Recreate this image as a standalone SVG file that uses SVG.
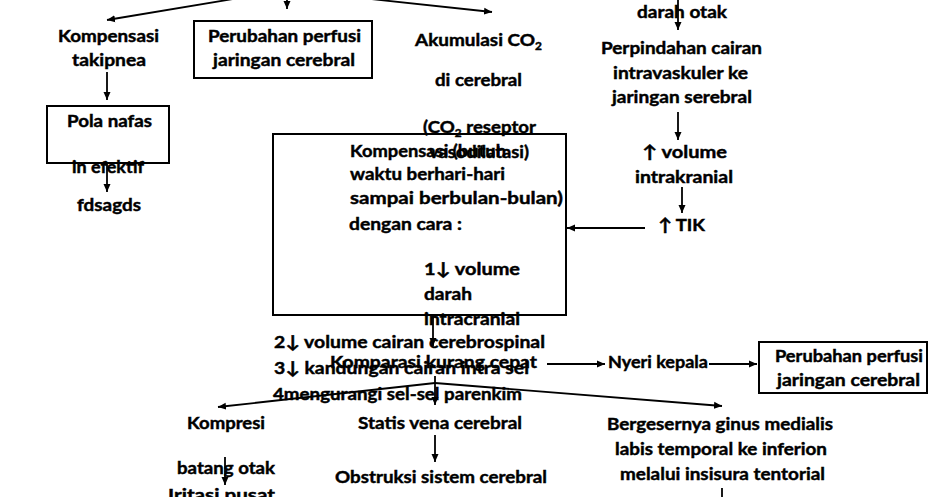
<svg xmlns="http://www.w3.org/2000/svg" width="947" height="497" viewBox="0 0 947 497">
<defs>
<marker id="ah" markerUnits="userSpaceOnUse" markerWidth="9" markerHeight="8" refX="8" refY="4" orient="auto">
<path d="M0,0.5 L8,4 L0,7.5 z" fill="#000"/>
</marker>
<style>
.t{font-family:Lato,"Liberation Sans","DejaVu Sans",sans-serif;font-weight:700;font-size:17.5px;fill:#000;stroke:#000;stroke-width:0.45}
.s{font-size:11px}
.c{stroke:#000;stroke-width:1.8;fill:none}
.a{marker-end:url(#ah)}
.b{fill:none;stroke:#000;stroke-width:2}
</style>
</defs>
<rect width="947" height="497" fill="#fff"/>

<g id="connectors">
<line class="c a" x1="287" y1="-10" x2="107" y2="20"/>
<line class="c a" x1="287" y1="-10" x2="492" y2="12"/>
<line class="c a" x1="287" y1="-10" x2="287" y2="9"/>
<line class="c a" x1="107" y1="72" x2="107" y2="100"/>
<line class="c a" x1="107" y1="163" x2="107" y2="192"/>
<line class="c a" x1="678" y1="-5" x2="678" y2="30"/>
<line class="c a" x1="678" y1="112" x2="678" y2="140"/>
<line class="c a" x1="682" y1="187" x2="682" y2="213"/>
<line class="c a" x1="645" y1="228" x2="567" y2="228"/>
<line class="c a" x1="433" y1="315" x2="433" y2="346"/>
<line class="c" x1="435" y1="376" x2="435" y2="383"/>
<line class="c a" x1="435" y1="383" x2="218" y2="407"/>
<line class="c a" x1="435" y1="383" x2="722" y2="406"/>
<line class="c a" x1="435" y1="383" x2="435" y2="405"/>
<line class="c a" x1="547" y1="364" x2="605" y2="364"/>
<line class="c a" x1="709" y1="364" x2="757" y2="364"/>
<line class="c a" x1="435" y1="435" x2="435" y2="462"/>
<line class="c a" x1="225" y1="457" x2="225" y2="485"/>
<line class="c" x1="722" y1="488" x2="722" y2="500"/>
</g>

<g id="kompensasi-takipnea">
<text class="t" x="58" y="42" textLength="101" lengthAdjust="spacingAndGlyphs">Kompensasi</text>
<text class="t" x="72" y="66" textLength="74" lengthAdjust="spacingAndGlyphs">takipnea</text>
</g>

<g id="perfusi-top">
<rect class="b" x="194" y="21" width="178" height="57"/>
<text class="t" x="208" y="42" textLength="153" lengthAdjust="spacingAndGlyphs">Perubahan perfusi</text>
<text class="t" x="213" y="66" textLength="142" lengthAdjust="spacingAndGlyphs">jaringan cerebral</text>
</g>

<g id="pola-nafas">
<rect class="b" x="47" y="106" width="122" height="57"/>
<text class="t" x="67" y="127" textLength="85" lengthAdjust="spacingAndGlyphs">Pola nafas</text>
<text class="t" x="72" y="173" textLength="72" lengthAdjust="spacingAndGlyphs">in efektif</text>
</g>

<g id="fdsagds">
<text class="t" x="77" y="211" textLength="64" lengthAdjust="spacingAndGlyphs">fdsagds</text>
</g>

<g id="akumulasi">
<text class="t" x="415" y="46" textLength="127" lengthAdjust="spacingAndGlyphs">Akumulasi CO<tspan class="s" dy="4">2</tspan></text>
<text class="t" x="435" y="86" textLength="87" lengthAdjust="spacingAndGlyphs">di cerebral</text>
<text class="t" x="423" y="133" textLength="113" lengthAdjust="spacingAndGlyphs">(CO<tspan class="s" dy="4">2</tspan><tspan dy="-4"> reseptor</tspan></text>
<text class="t" x="429" y="158" textLength="100" lengthAdjust="spacingAndGlyphs">vasodilatasi)</text>
</g>

<g id="kompensasi-box">
<rect class="b" x="273" y="134" width="293" height="181"/>
<text class="t" x="350" y="157" textLength="156" lengthAdjust="spacingAndGlyphs">Kompensasi (butuh</text>
<text class="t" x="350" y="180" textLength="155" lengthAdjust="spacingAndGlyphs">waktu berhari-hari</text>
<text class="t" x="350" y="204" textLength="213" lengthAdjust="spacingAndGlyphs">sampai berbulan-bulan)</text>
<text class="t" x="349" y="230" textLength="113" lengthAdjust="spacingAndGlyphs">dengan cara :</text>
<text class="t" x="424" y="275" textLength="96" lengthAdjust="spacingAndGlyphs">1↓ volume</text>
<text class="t" x="424" y="300" textLength="48" lengthAdjust="spacingAndGlyphs">darah</text>
<text class="t" x="424" y="325" textLength="96" lengthAdjust="spacingAndGlyphs">intracranial</text>
<text class="t" x="274" y="348" textLength="271" lengthAdjust="spacingAndGlyphs">2↓ volume cairan cerebrospinal</text>
<text class="t" x="274" y="374" textLength="255" lengthAdjust="spacingAndGlyphs">3↓ kandungan cairan intra sel</text>
<text class="t" x="273" y="400" textLength="249" lengthAdjust="spacingAndGlyphs">4mengurangi sel-sel  parenkim</text>
</g>

<g id="komparasi">
<text class="t" x="330" y="368" textLength="207" lengthAdjust="spacingAndGlyphs">Komparasi kurang cepat</text>
</g>

<g id="nyeri-kepala">
<text class="t" x="608" y="368" textLength="100" lengthAdjust="spacingAndGlyphs">Nyeri kepala</text>
</g>

<g id="perfusi-right">
<rect class="b" x="759" y="342" width="168" height="51"/>
<text class="t" x="775" y="362" textLength="148" lengthAdjust="spacingAndGlyphs">Perubahan perfusi</text>
<text class="t" x="777" y="386" textLength="143" lengthAdjust="spacingAndGlyphs">jaringan cerebral</text>
</g>

<g id="kompresi">
<text class="t" x="187" y="429" textLength="78" lengthAdjust="spacingAndGlyphs">Kompresi</text>
<text class="t" x="177" y="474" textLength="98" lengthAdjust="spacingAndGlyphs">batang otak</text>
</g>

<g id="iritasi">
<text class="t" x="168" y="501" textLength="107" lengthAdjust="spacingAndGlyphs">Iritasi pusat</text>
</g>

<g id="statis-vena">
<text class="t" x="358" y="429" textLength="164" lengthAdjust="spacingAndGlyphs">Statis vena cerebral</text>
</g>

<g id="obstruksi">
<text class="t" x="335" y="483" textLength="212" lengthAdjust="spacingAndGlyphs">Obstruksi sistem cerebral</text>
</g>

<g id="bergesernya">
<text class="t" x="607" y="430" textLength="226" lengthAdjust="spacingAndGlyphs">Bergesernya ginus medialis</text>
<text class="t" x="615" y="455" textLength="212" lengthAdjust="spacingAndGlyphs">labis temporal ke inferion</text>
<text class="t" x="620" y="480" textLength="205" lengthAdjust="spacingAndGlyphs">melalui insisura tentorial</text>
</g>

<g id="darah-otak">
<text class="t" x="637" y="18" textLength="90" lengthAdjust="spacingAndGlyphs">darah otak</text>
</g>

<g id="perpindahan">
<text class="t" x="601" y="54" textLength="161" lengthAdjust="spacingAndGlyphs">Perpindahan cairan</text>
<text class="t" x="613" y="79" textLength="135" lengthAdjust="spacingAndGlyphs">intravaskuler ke</text>
<text class="t" x="612" y="103" textLength="140" lengthAdjust="spacingAndGlyphs">jaringan serebral</text>
</g>

<g id="volume-intrakranial">
<text class="t" x="642" y="158" textLength="85" lengthAdjust="spacingAndGlyphs">↑ volume</text>
<text class="t" x="635" y="183" textLength="98" lengthAdjust="spacingAndGlyphs">intrakranial</text>
</g>

<g id="tik">
<text class="t" x="658" y="231" textLength="47" lengthAdjust="spacingAndGlyphs">↑ TIK</text>
</g>
</svg>
